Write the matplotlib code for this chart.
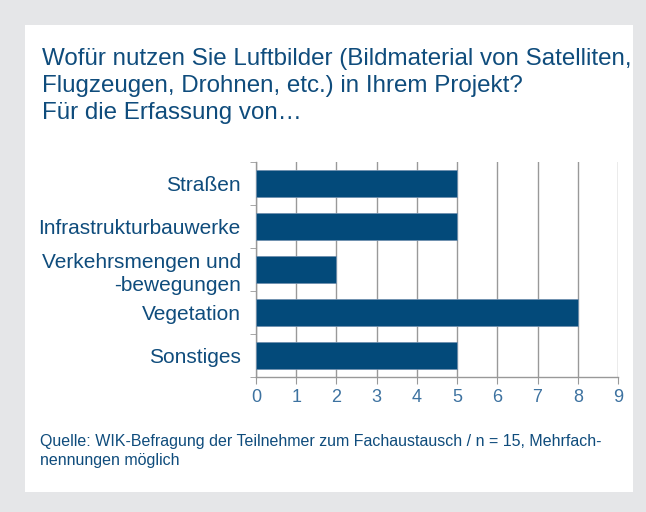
import matplotlib.pyplot as plt
from matplotlib.patches import Rectangle

plt.rcParams['font.family'] = ['Liberation Sans', 'DejaVu Sans']

# data
categories = ['Straßen', 'Infrastrukturbauwerke', 'Verkehrsmengen und\n-bewegungen',
              'Vegetation', 'Sonstiges']
values = [5, 5, 2, 8, 5]

title = ('Wofür nutzen Sie Luftbilder (Bildmaterial von Satelliten,\n'
         'Flugzeugen, Drohnen, etc.) in Ihrem Projekt?\n'
         'Für die Erfassung von…')
source = ('Quelle: WIK-Befragung der Teilnehmer zum Fachaustausch / n = 15, Mehrfach-\n'
          'nennungen möglich')

navy = '#034a7a'
text_col = '#0f4c7c'
tick_col = '#3d72a0'
grid_col = '#999999'

fig = plt.figure(figsize=(6.46, 5.12), dpi=100)
fig.patch.set_facecolor('#e5e6e8')
# white panel
fig.patches.append(Rectangle((25 / 646, 1 - 492 / 512), (633 - 25) / 646, (492 - 25) / 512,
                             transform=fig.transFigure, facecolor='white', edgecolor='none',
                             zorder=-5))

fig.text(42 / 646, 1 - 48 / 512, title, fontsize=17.4, color=text_col,
         ha='left', va='top', linespacing=1.3)
fig.text(40 / 646, 1 - 434 / 512, source, fontsize=11.5, color=text_col,
         ha='left', va='top', linespacing=1.35)

ax = fig.add_axes([256 / 646, 1 - 377 / 512, (618 - 256) / 646, (377 - 162) / 512])
ax.set_zorder(2)
ax.set_facecolor('white')

y = list(range(len(categories)))
ax.barh(y, values, height=0.63, color=navy, edgecolor='#6f8fae', linewidth=0.6, zorder=3)

ax.set_xlim(0, 9)
ax.set_ylim(len(categories) - 0.5, -0.5)
ax.set_xticks(range(10))
ax.set_yticks(y)
ax.set_yticklabels(categories, fontsize=15, color=text_col, ha='right', linespacing=1.3)
ax.set_yticks([i - 0.5 for i in range(len(categories) + 1)], minor=True)
ax.tick_params(axis='y', which='major', length=0, pad=11)
ax.tick_params(axis='y', which='minor', length=4, color=grid_col, direction='out')
ax.tick_params(axis='x', length=5, color=grid_col, labelsize=13, labelcolor=tick_col, pad=4)

ax.grid(axis='x', color=grid_col, linewidth=1, zorder=0)
for s in ['top', 'right']:
    ax.spines[s].set_visible(False)
for s in ['left', 'bottom']:
    ax.spines[s].set_color(grid_col)
    ax.spines[s].set_linewidth(1)

fig.savefig('out.png', dpi=100, facecolor=fig.get_facecolor())
